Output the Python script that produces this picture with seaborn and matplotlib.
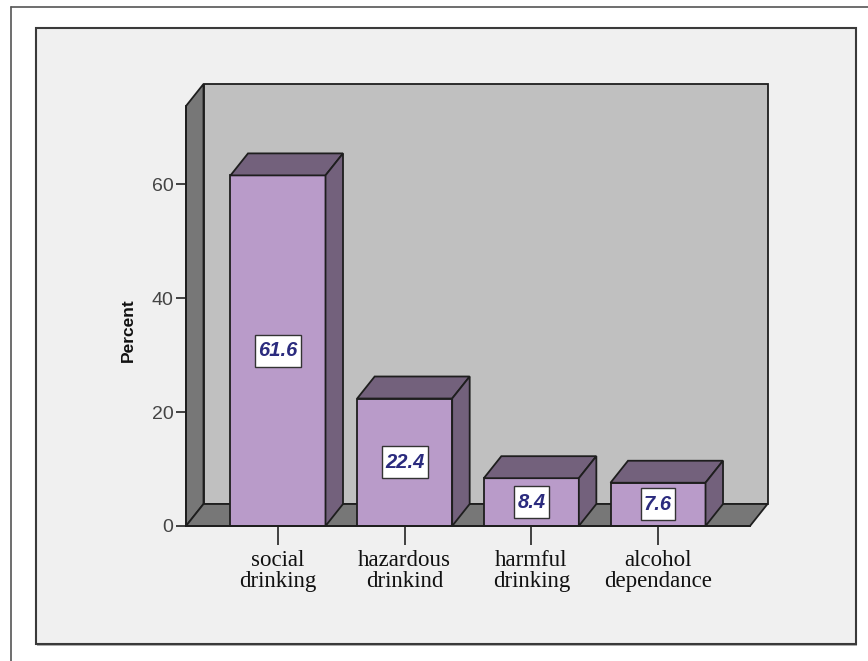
import matplotlib
matplotlib.use("Agg")
import matplotlib.pyplot as plt
import seaborn as sns
import numpy as np
from matplotlib.patches import Polygon, Rectangle
from matplotlib.lines import Line2D
from matplotlib.path import Path

categories = ["social\ndrinking", "hazardous\ndrinkind", "harmful\ndrinking", "alcohol\ndependance"]
values = [61.6, 22.4, 8.4, 7.6]
value_labels = ["61.6", "22.4", "8.4", "7.6"]
y_ticks = [0, 20, 40, 60]
y_label = "Percent"

W, H = 868, 661
DPI = 100
sns.set_style("white")
plt.rcParams['font.family'] = ['Liberation Sans', 'DejaVu Sans']

fig = plt.figure(figsize=(W / DPI, H / DPI), dpi=DPI, facecolor="white")

def fx(px):
    return px / W

def fy(py):
    return (H - py) / H

# outer frame lines
fig.add_artist(Line2D([fx(11), fx(11)], [fy(7), 0], color="#555555", lw=1.2,
                      transform=fig.transFigure, zorder=-10))
fig.add_artist(Line2D([fx(11), 1], [fy(7), fy(7)], color="#555555", lw=1.2,
                      transform=fig.transFigure, zorder=-10))
# inner panel with light shadow
fig.add_artist(Rectangle((fx(37), fy(646)), fx(857) - fx(37), fy(28) - fy(646),
                         facecolor="#b0b0b0", edgecolor="none", transform=fig.transFigure, zorder=-10))
fig.add_artist(Rectangle((fx(36), fy(644)), fx(856) - fx(36), fy(28) - fy(644),
                         facecolor="#f0f0f0", edgecolor="#3a3a3a", lw=1.5, transform=fig.transFigure,
                         zorder=-9))

# axes: left edge = front of side wall (px 186), right = front floor end (px 750)
ax_left, ax_right, ax_bottom, ax_top = 186, 750, 526, 106
ax = fig.add_axes([fx(ax_left), fy(ax_bottom), fx(ax_right) - fx(ax_left), fy(ax_top) - fy(ax_bottom)])
ax.set_facecolor("none")
ax.set_zorder(1)

xpx_per_unit = 126.67
ypx_per_unit = 341.5 / 60.0
xl = (ax_left - 278) / xpx_per_unit
xr = (ax_right - 278) / xpx_per_unit
ymax = (ax_bottom - ax_top) / ypx_per_unit
ddx = 17.5 / xpx_per_unit
ddy = 22.0 / ypx_per_unit

front_col = "#b99bc9"
dark_col = "#73617c"
wall_col = "#c0c0c0"
side_col = "#777777"
edge = "#1e1e1e"
lw = 1.3

# back wall, side wall, floor
ax.add_patch(Polygon([(xl + ddx, ddy), (xr + ddx, ddy), (xr + ddx, ymax + ddy), (xl + ddx, ymax + ddy)],
                     closed=True, facecolor=wall_col, edgecolor=edge, lw=lw, zorder=0.5, clip_on=False))
ax.add_patch(Polygon([(xl, 0), (xl, ymax), (xl + ddx, ymax + ddy), (xl + ddx, ddy)],
                     closed=True, facecolor=side_col, edgecolor=edge, lw=lw, zorder=0.6, clip_on=False))
ax.add_patch(Polygon([(xl, 0), (xr, 0), (xr + ddx, ddy), (xl + ddx, ddy)],
                     closed=True, facecolor=side_col, edgecolor=edge, lw=lw, zorder=0.6, clip_on=False))

sns.barplot(x=categories, y=values, width=0.75, color=front_col, saturation=1,
            edgecolor=edge, linewidth=lw, ax=ax, zorder=2)

bars = [p for p in ax.patches if type(p) is Rectangle]
for p in bars:
    x0 = p.get_x()
    x1 = x0 + p.get_width()
    h = p.get_height()
    p.set_clip_on(False)
    top = Polygon([(x0, h), (x1, h), (x1 + ddx, h + ddy), (x0 + ddx, h + ddy)], closed=True,
                  facecolor=dark_col, edgecolor=edge, lw=lw, zorder=2, clip_on=False)
    side = Polygon([(x1, 0), (x1, h), (x1 + ddx, h + ddy), (x1 + ddx, ddy)], closed=True,
                   facecolor=dark_col, edgecolor=edge, lw=lw, zorder=2, clip_on=False)
    ax.add_patch(top)
    ax.add_patch(side)


def label_box(x0, y0, width, height, mutation_size):
    px = 0.17 * mutation_size
    py = 0.32 * mutation_size
    verts = [(x0 - px, y0 - py), (x0 + width + px, y0 - py), (x0 + width + px, y0 + height + py),
             (x0 - px, y0 + height + py), (x0 - px, y0 - py)]
    return Path(verts, [Path.MOVETO, Path.LINETO, Path.LINETO, Path.LINETO, Path.CLOSEPOLY])


for i, (v, lab) in enumerate(zip(values, value_labels)):
    ax.text(i, v / 2, lab, ha="center", va="center", fontsize=14.5, fontweight="bold", fontstyle="italic",
            color="#2b2b7e", zorder=5,
            bbox=dict(boxstyle=label_box, facecolor="white", edgecolor="#333333", lw=1.0))

ax.set_xlim(xl, xr)
ax.set_ylim(0, ymax)
ax.set_yticks(y_ticks)
ax.set_yticklabels([str(t) for t in y_ticks], fontsize=14, color="#444444")
ax.set_xticks(range(len(categories)))
ax.set_xticklabels(categories, fontsize=16.5, family=["Liberation Serif"], color="#111111", linespacing=1.05)
ax.tick_params(axis="y", direction="out", length=7, width=1.3, color="#333333", pad=2, left=True)
ax.tick_params(axis="x", direction="out", length=14, width=1.3, color="#333333", pad=3, bottom=True)
ax.set_xlabel("")
ax.set_ylabel(y_label, fontsize=12.5, fontweight="bold", color="#111111")
ax.yaxis.set_label_coords((136 - ax_left) / (ax_right - ax_left), (526 - 330) / (526 - 106))

for s in ["top", "right"]:
    ax.spines[s].set_visible(False)
for s in ["left", "bottom"]:
    ax.spines[s].set_visible(True)
    ax.spines[s].set_color(edge)
    ax.spines[s].set_linewidth(lw)
    ax.spines[s].set_zorder(3)

fig.savefig("out.png", dpi=DPI, facecolor="white")
